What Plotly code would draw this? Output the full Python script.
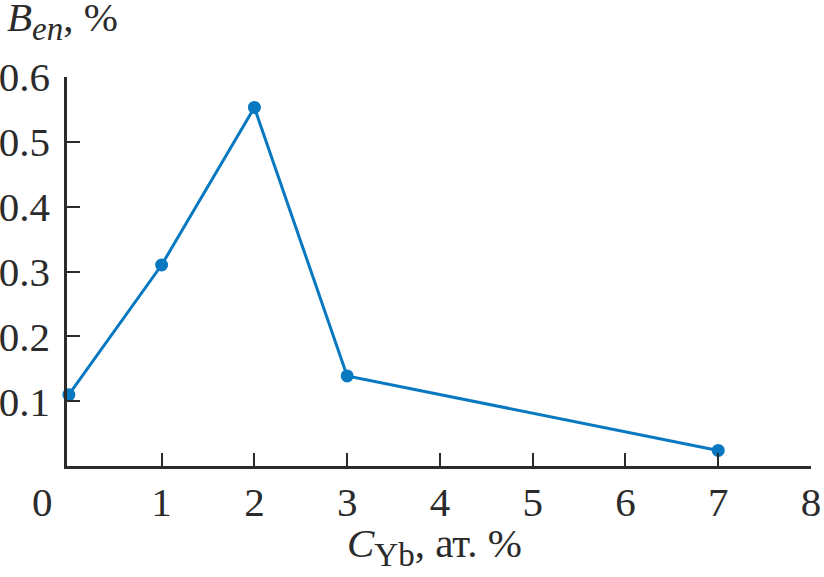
import plotly.graph_objects as go

x_vals = [0, 1, 2, 3, 7]
y_vals = [0.11, 0.31, 0.553, 0.139, 0.024]
x_ticks = [1, 2, 3, 4, 5, 6, 7, 8]
y_ticks = [0.1, 0.2, 0.3, 0.4, 0.5, 0.6]
y_tick_text = ["0.1", "0.2", "0.3", "0.4", "0.5", "0.6"]

FONT = "Liberation Serif"
AX = "#2b2b2b"
BLUE = "#0879c0"

fig = go.Figure()
fig.add_trace(go.Scatter(
    x=x_vals, y=y_vals, mode="lines+markers",
    line=dict(color=BLUE, width=3),
    marker=dict(color=BLUE, size=13),
    cliponaxis=False, showlegend=False,
))

fig.update_layout(
    width=824, height=577,
    margin=dict(l=67, r=13, t=77, b=111, autoexpand=False),
    paper_bgcolor="white", plot_bgcolor="white",
    font=dict(family=FONT, size=41, color=AX),
)
fig.update_xaxes(
    range=[-0.02, 8], tickvals=x_ticks, ticktext=[str(v) for v in x_ticks],
    ticks="inside", ticklen=13, tickwidth=2, tickcolor=AX,
    showline=True, linecolor=AX, linewidth=2.5, showgrid=False, zeroline=False,
    ticklabelstandoff=-2, automargin=False,
)
fig.update_yaxes(
    range=[0, 0.6], tickvals=y_ticks, ticktext=y_tick_text,
    ticks="inside", ticklen=13, tickwidth=2, tickcolor=AX,
    showline=True, linecolor=AX, linewidth=2.5, showgrid=False, zeroline=False,
    ticklabelstandoff=6, automargin=False,
)
fig.add_annotation(
    text="0", xref="paper", yref="paper", x=(42 - 67) / 744, y=-(502 - 466) / 389,
    xanchor="center", yanchor="middle", showarrow=False, font=dict(size=41),
)
fig.add_annotation(
    text="<i>B</i><sub><span style='font-size:33px'><i>en</i></span></sub>, %",
    xref="paper", yref="paper",
    x=(5 - 67) / 744, y=(466 - 21) / 389, xanchor="left", yanchor="middle",
    showarrow=False, font=dict(size=41),
)
fig.add_annotation(
    text="<i>C</i><sub><span style='font-size:33px'>Yb</span></sub>, ат. %",
    xref="paper", yref="paper",
    x=(434 - 67) / 744, y=-(546 - 466) / 389, xanchor="center", yanchor="middle",
    showarrow=False, font=dict(size=41),
)
fig.write_html(
    "out.html",
    config={"displayModeBar": False},
    post_script="document.body.style.margin='0';document.body.style.overflow='hidden';",
)
